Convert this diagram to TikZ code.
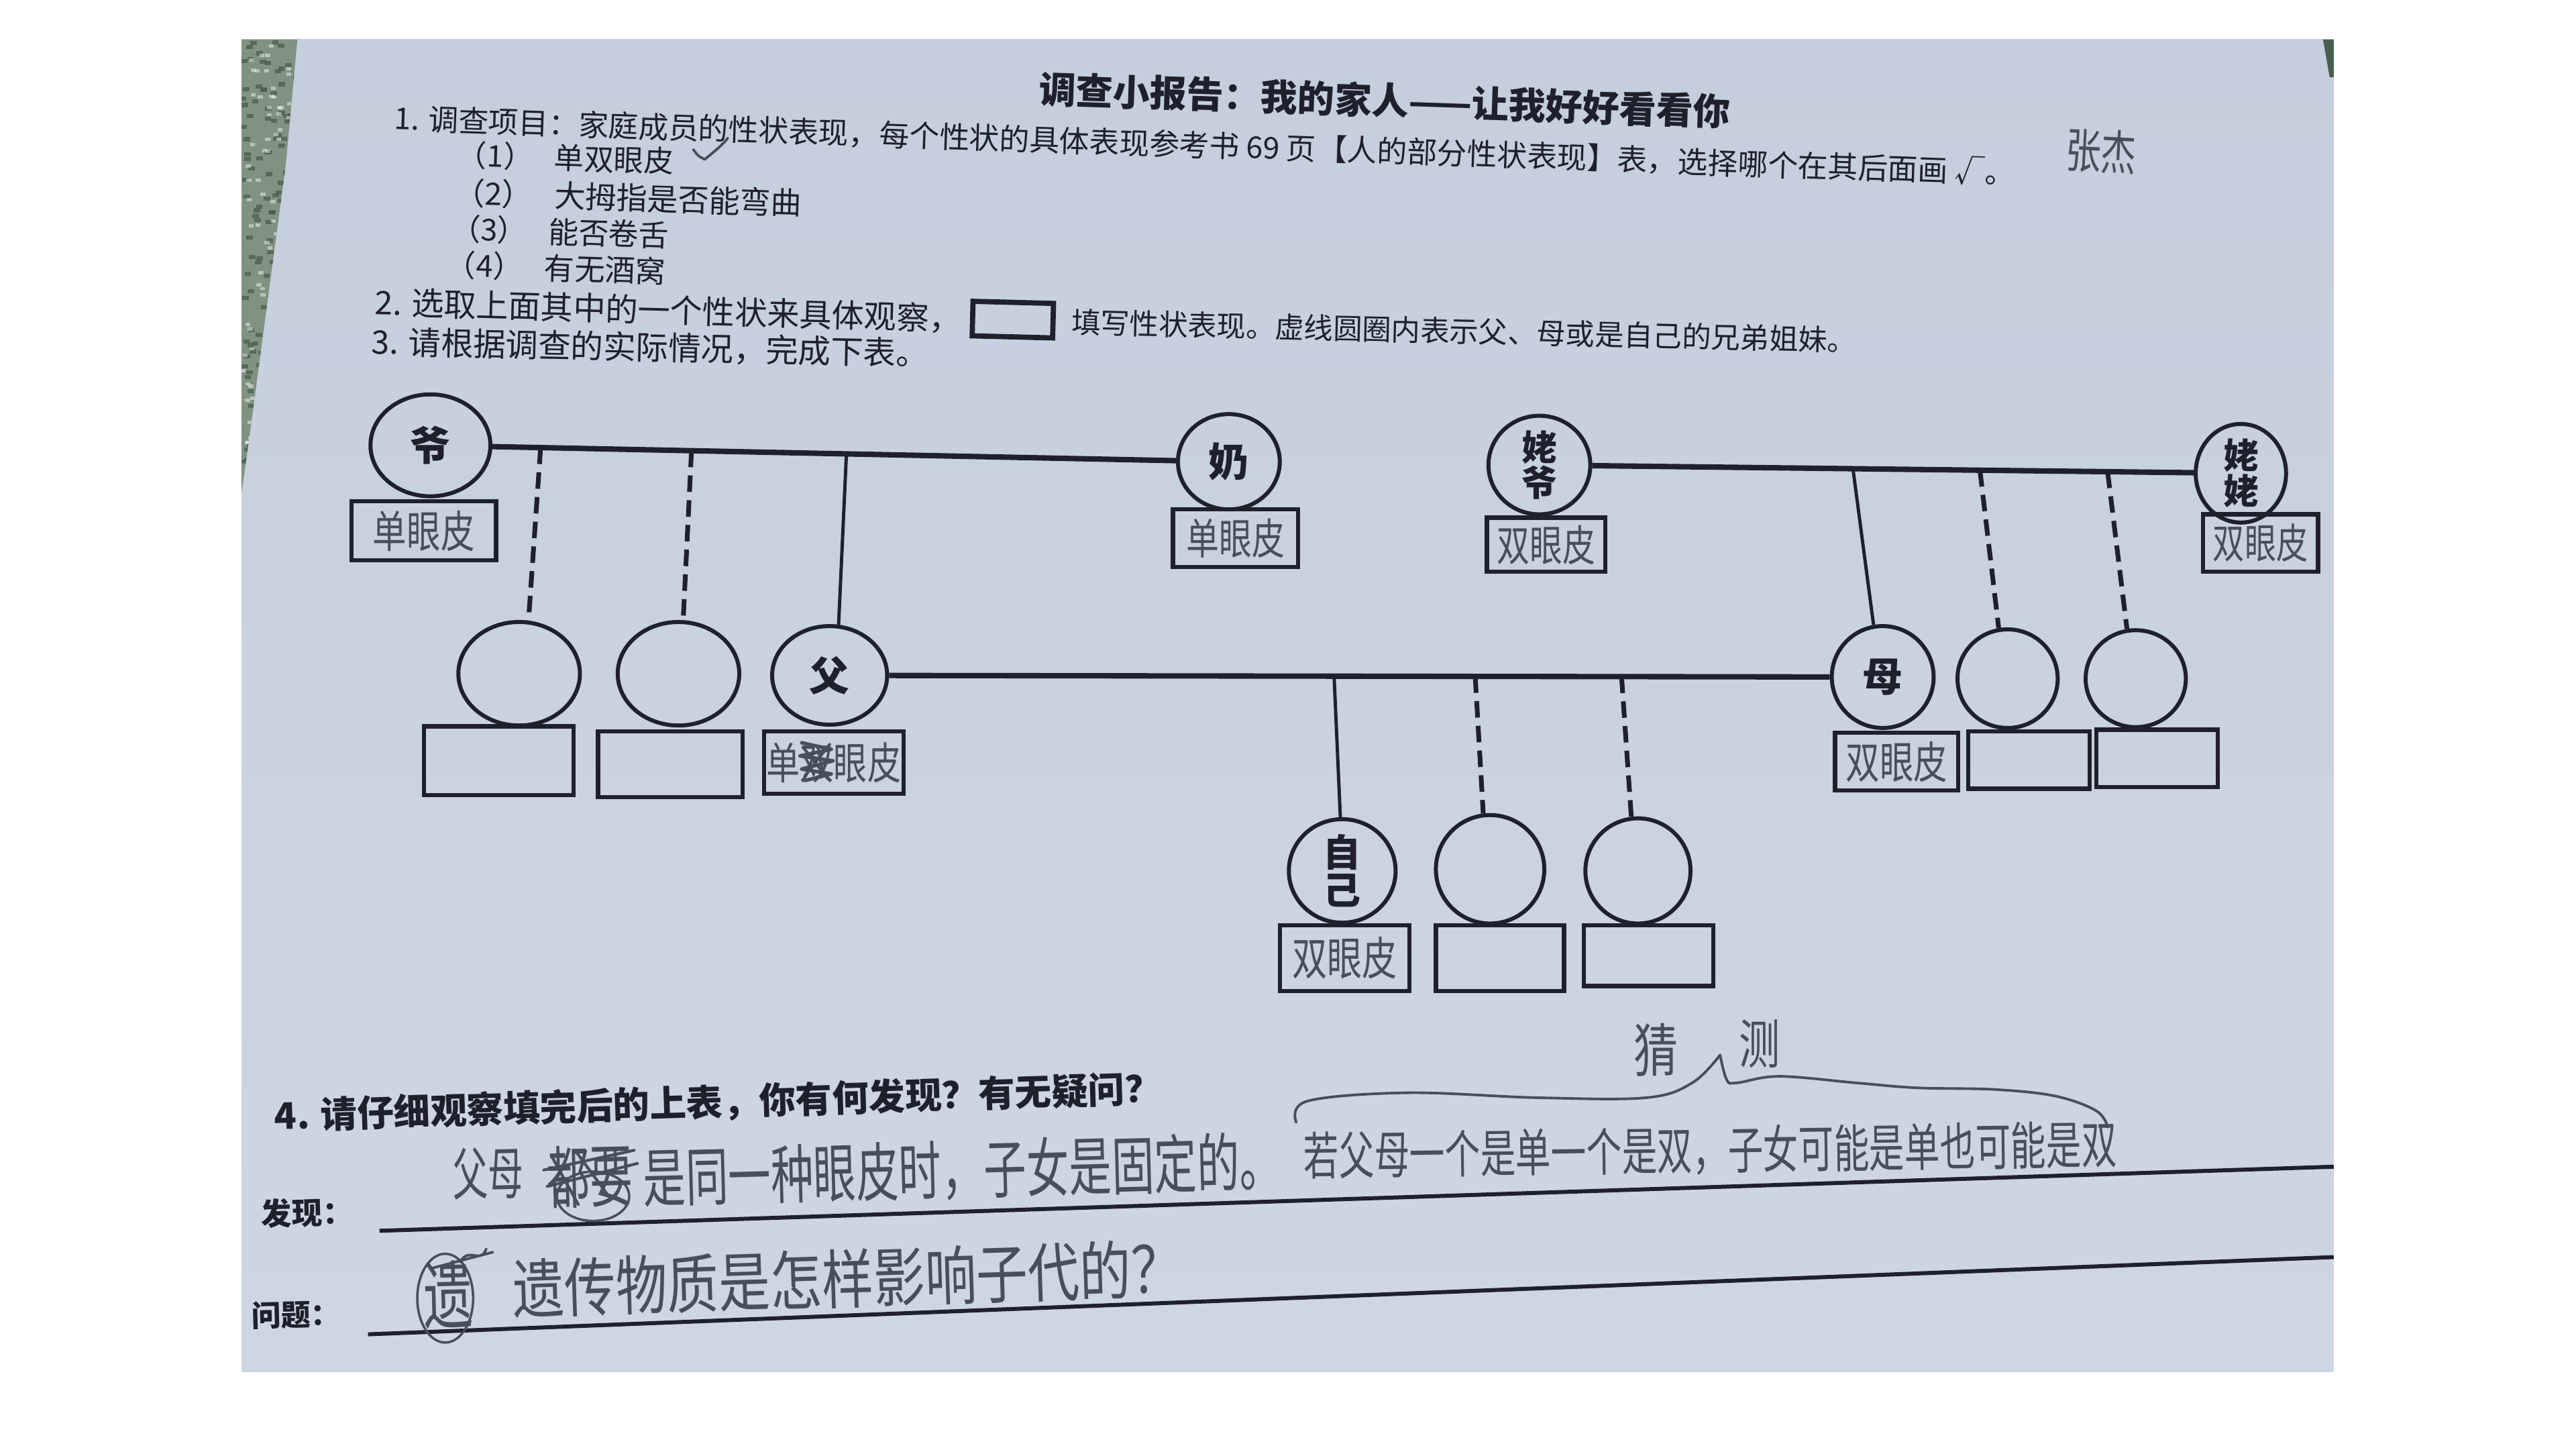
\documentclass[tikz,border=0pt]{standalone}
\usepackage{fontspec}
\usepackage{graphicx}
\usetikzlibrary{shapes.geometric,calc}
\newfontfamily\cjk{Noto Sans CJK SC}
\newfontfamily\hand{Noto Sans CJK SC}
\definecolor{paper}{RGB}{197,206,220}
\definecolor{paperlow}{RGB}{207,214,227}
\definecolor{ink}{RGB}{30,33,43}
\definecolor{pencil}{RGB}{72,78,92}
\definecolor{fabric}{RGB}{128,146,130}
\definecolor{fabricdk}{RGB}{74,94,78}
\def\unitpx{0.02449cm}
\newlength\UU \setlength\UU{0.02449cm}
\newcommand\fitw[2]{\resizebox{#1\UU}{!}{#2}}
\newcommand\hwtext[3]{\scalebox{1}[#2]{\resizebox{#1\UU}{!}{#3}}}
\begin{document}
\begin{tikzpicture}[x=0.02449cm,y=-0.02449cm,
  pers/.style={ellipse,draw=ink,line width=1.7pt,inner sep=0pt,text=ink,align=center,
    font=\cjk\bfseries\fontsize{17}{17}\selectfont},
  sz/.style 2 args={minimum width=#1*\unitpx,minimum height=#2*\unitpx},
  trait/.style={rectangle,draw=ink,line width=1.8pt,inner sep=0pt,text=pencil,
    font=\hand\fontsize{14}{14}\selectfont},
  bar/.style={draw=ink,line width=2.3pt},
  stem/.style={draw=ink,line width=1.4pt},
  dstem/.style={draw=ink,line width=2pt,dash pattern=on 7pt off 3.5pt},
  txt/.style={inner sep=0pt,text=ink,font=\cjk},
  body/.style={inner sep=0pt,text=ink,font=\cjk\fontsize{12.73}{13}\selectfont,anchor=west,rotate=-1.9},
  hw/.style={inner sep=0pt,text=pencil,font=\hand},
  uline/.style={draw=ink,line width=1.7pt},
  scrib/.style={draw=pencil,line width=1pt,line join=round,line cap=round}
]
\useasboundingbox (0,0) rectangle (1568,882);
\fill[white] (0,0) rectangle (1568,882);
% paper
\shade[top color=paper,bottom color=paperlow] (147,24) rectangle (1420.5,835);
% fabric at the left edge
\begin{scope}
  \clip (147,24) -- (181,24) -- (174,100) -- (151,272) -- (147,300) -- cycle;
  \fill[fabric] (140,20) rectangle (185,305);
  \pgfmathsetseed{7}
  \foreach \i in {1,...,170}{
    \pgfmathsetmacro\xa{146+rnd*36}
    \pgfmathsetmacro\ya{22+rnd*282}
    \fill[fabricdk,opacity=0.75] (\xa,\ya) rectangle ++(4,2.5);
  }
  \foreach \i in {1,...,90}{
    \pgfmathsetmacro\xa{146+rnd*36}
    \pgfmathsetmacro\ya{22+rnd*282}
    \fill[white,opacity=0.45] (\xa,\ya) rectangle ++(3,2);
  }
\end{scope}
\fill[fabricdk] (1414,24) -- (1420.5,24) -- (1420.5,47) -- (1418,47) -- cycle;

% ---------- header texts ----------
\node[txt,rotate=-1.9] (title) at (843,61) {\fitw{421}{\bfseries 调查小报告：我的家人——让我好好看看你}};
\node[body] (l1a) at (240,72) {1. 调查项目：家庭成员的性状表现，};
\node[body] (l1b) at (l1a.east) {每个性状的具体表现参考书 69 页};
\node[body] (l1c) at (l1b.east) {【人的部分性状表现】表，};
\node[body] (l1d) at (l1c.east) {选择哪个在其后面画 √。};
\node[txt,anchor=west,rotate=-1.8] (i1) at (278,94) {\fitw{132}{（1）\hspace{0.7em}单双眼皮}};
\node[txt,anchor=west,rotate=-1.8] (i2) at (276,117) {\fitw{212}{（2）\hspace{0.7em}大拇指是否能弯曲}};
\node[txt,anchor=west,rotate=-1.8] (i3) at (274,139) {\fitw{133}{（3）\hspace{0.7em}能否卷舌}};
\node[txt,anchor=west,rotate=-1.8] (i4) at (271,161) {\fitw{134}{（4）\hspace{0.7em}有无酒窝}};
\node[txt,anchor=west,rotate=-1.6] (l2a) at (228,184) {\fitw{357}{2. 选取上面其中的一个性状来具体观察，}};
\node[draw=ink,line width=2.2pt,inner sep=0pt,rotate=-1.5,minimum width=49*\unitpx,minimum height=21*\unitpx] (l2box) at (616.5,194.5) {};
\node[txt,anchor=west,rotate=-1.3] (l2b) at (652,196) {\fitw{478}{填写性状表现。虚线圆圈内表示父、母或是自己的兄弟姐妹。}};
\node[txt,anchor=west,rotate=-1.2] (l3) at (226,208) {\fitw{339}{3. 请根据调查的实际情况，完成下表。}};
% handwritten check mark and name
\draw[scrib,line width=1.1pt] (422,91) .. controls (425,95) .. (429,97) .. controls (435,92) and (440,88) .. (443,84);
\node[hw,rotate=-3] (name) at (1279,92) {\hwtext{43}{1.35}{张杰}};

% ---------- family tree ----------
\node[pers,sz={73}{62}] (ye) at (262,271) {爷};
\node[pers,sz={62}{58}] (nai) at (748,281) {奶};
\node[pers,sz={62}{60},font=\cjk\bfseries\fontsize{15}{15}\selectfont] (lye) at (937,283) {姥\\爷};
\node[pers,sz={55}{60},font=\cjk\bfseries\fontsize{15}{15}\selectfont] (lla) at (1364,288) {姥\\姥};
\node[pers,sz={74}{63}] (e1) at (316,410) {};
\node[pers,sz={74}{63}] (e2) at (413,410) {};
\node[pers,sz={70}{60}] (fu) at (505,411) {父};
\node[pers,sz={62}{62}] (mu) at (1146,412) {母};
\node[pers,sz={61}{60}] (e3) at (1222,413) {};
\node[pers,sz={61}{59}] (e4) at (1300,413) {};
\node[pers,sz={65}{63},font=\cjk\bfseries\fontsize{16}{16}\selectfont] (zj) at (817,530) {自\\己};
\node[pers,sz={66}{66}] (e5) at (907,529) {};
\node[pers,sz={64}{64}] (e6) at (997,530) {};

% trait boxes
\node[trait,sz={88}{36}] (yeb) at (258,323) {\hwtext{62}{1.3}{单眼皮}};
\node[trait,sz={76}{35}] (naib) at (752,327.5) {\hwtext{60}{1.3}{单眼皮}};
\node[trait,sz={72}{33}] (lyeb) at (941,331.5) {\hwtext{60}{1.3}{双眼皮}};
\node[trait,sz={70}{35}] (llab) at (1376,330.5) {\hwtext{58}{1.3}{双眼皮}};
\node[trait,sz={91}{42}] (e1b) at (303.5,463) {};
\node[trait,sz={88}{40}] (e2b) at (408,465) {};
\node[trait,sz={85}{38}] (fub) at (507.5,464) {\hwtext{82}{1.3}{单双眼皮}};
\node[trait,sz={75}{35}] (mub) at (1154.5,463.5) {\hwtext{62}{1.3}{双眼皮}};
\node[trait,sz={74}{35}] (e3b) at (1235,462.5) {};
\node[trait,sz={74}{35}] (e4b) at (1313,461.5) {};
\node[trait,sz={79}{40}] (zjb) at (818.5,583) {\hwtext{64}{1.3}{双眼皮}};
\node[trait,sz={78}{40}] (e5b) at (913,583) {};
\node[trait,sz={79}{37}] (e6b) at (1003.5,581.5) {};
% scribble over the crossed-out character in the father's box
\draw[scrib,line width=1.5pt] (488,452) -- (506,456) -- (487,460) -- (507,463) -- (488,468) -- (506,471) -- (490,475);
\draw[scrib,line width=1.2pt] (489,455) -- (504,474) (505,453) -- (490,472);

% connectors
\draw[bar] (ye) -- (nai);
\coordinate (j1) at ($(ye)!0.138!(nai)$);
\coordinate (j2) at ($(ye)!0.327!(nai)$);
\coordinate (j3) at ($(ye)!0.521!(nai)$);
\draw[dstem] (j1) -- (e1.80);
\draw[dstem] (j2) -- (e2.85);
\draw[stem] (j3) -- (fu.80);

\draw[bar] (lye) -- (lla);
\coordinate (k1) at ($(lye)!0.447!(lla)$);
\coordinate (k2) at ($(lye)!0.628!(lla)$);
\coordinate (k3) at ($(lye)!0.810!(lla)$);
\draw[stem] (k1) -- (mu.100);
\draw[dstem] (k2) -- (e3.100);
\draw[dstem] (k3) -- (e4.100);

\draw[bar] (fu) -- (mu);
\coordinate (m1) at ($(fu)!0.479!(mu)$);
\coordinate (m2) at ($(fu)!0.613!(mu)$);
\coordinate (m3) at ($(fu)!0.752!(mu)$);
\draw[stem] (m1) -- (zj.92);
\draw[dstem] (m2) -- (e5.97);
\draw[dstem] (m3) -- (e6.97);

% ---------- question 4 ----------
\node[txt,rotate=1.8] (q4) at (437,671) {\fitw{540}{\bfseries 4. 请仔细观察填完后的上表，你有何发现？有无疑问？}};
\node[txt,rotate=1.5] (fx) at (187,738) {\fitw{56}{\bfseries 发现：}};
\node[txt,rotate=1.5] (wt) at (180,800) {\fitw{54}{\bfseries 问题：}};
\coordinate (u1a) at (231,749); \coordinate (u1b) at (1420.5,710);
\coordinate (u2a) at (224,812); \coordinate (u2b) at (1420.5,765);
\draw[uline] (u1a) -- (u1b);
\draw[uline] (u2a) -- (u2b);

% handwritten answer
\node[hw,rotate=1.5] (h1) at (297,714) {\hwtext{43}{1.6}{父母}};
\node[hw,rotate=1.5] (h2) at (359,716) {\hwtext{52}{1.6}{都要}};
\draw[scrib,line width=1.2pt] (331,712) -- (386,700) (333,722) -- (388,708) (336,704) -- (352,733) (350,700) -- (372,730);
\draw[scrib] (361,728) ellipse (22 and 15);
\node[hw,rotate=1.5] (h3) at (586,712) {\hwtext{389}{1.5}{是同一种眼皮时，子女是固定的。}};
\node[hw,rotate=0.8] (h4) at (1041,700) {\hwtext{495}{1.45}{若父母一个是单一个是双，子女可能是单也可能是双}};
% brace and guess
\draw[scrib,line width=1.1pt] plot[smooth,tension=0.6] coordinates {(789,683) (796,670) (857,665) (936,668) (1002,668) (1030,659) (1047,642)};
\draw[scrib,line width=1.1pt] plot[smooth,tension=0.6] coordinates {(1047,642) (1051,657) (1057,659) (1083,655) (1130,659) (1167,662) (1214,663) (1251,667) (1276,676) (1283,686)};
\node[hw] (g1) at (1008,639) {\hwtext{27}{1.3}{猜}};
\node[hw] (g2) at (1071,635) {\hwtext{25}{1.3}{测}};

% handwritten question
\node[hw,rotate=1.5] (p0) at (273,788) {\hwtext{30}{1.5}{遗}};
\draw[scrib,line width=1.1pt] (262,772) -- (300,762) (280,768) .. controls (286,758) and (292,770) .. (296,760);
\draw[scrib] (271,790) ellipse (17 and 27);
\node[hw,rotate=1.8] (p1) at (516,778) {\hwtext{408}{1.25}{遗传物质是怎样影响子代的？}};
\end{tikzpicture}
\end{document}
